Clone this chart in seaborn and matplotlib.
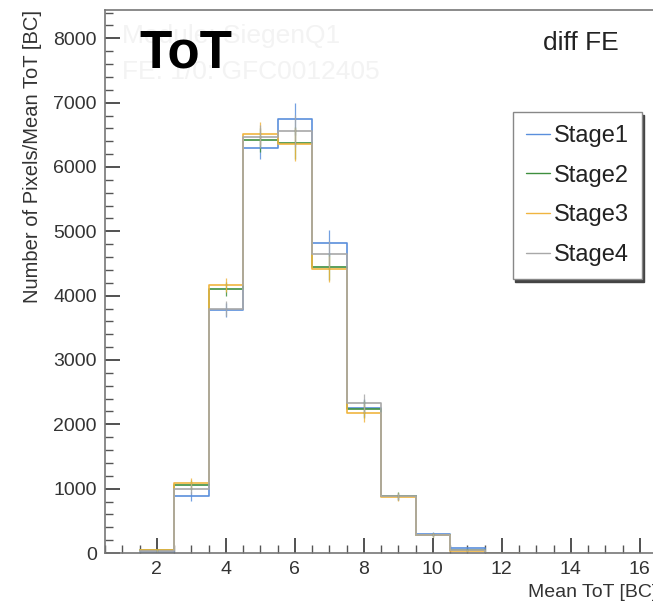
import numpy as np
import pandas as pd
import matplotlib
matplotlib.use("Agg")
import matplotlib.pyplot as plt
import seaborn as sns
from matplotlib.ticker import MultipleLocator
from matplotlib.lines import Line2D

# ---- data ----
tot_bins = [2, 3, 4, 5, 6, 7, 8, 9, 10, 11, 12]
stage1 = [20, 885, 3775, 6300, 6740, 4820, 2250, 880, 300, 70, 3]
stage2 = [40, 1055, 4105, 6420, 6375, 4445, 2240, 885, 275, 40, 3]
stage3 = [48, 1090, 4160, 6520, 6350, 4420, 2170, 875, 275, 35, 5]
stage4 = [25, 990, 3800, 6470, 6560, 4650, 2330, 880, 280, 45, 3]
err_half = [20, 80, 110, 180, 250, 200, 140, 60, 30, 15, 5]
stage_names = ["Stage1", "Stage2", "Stage3", "Stage4"]
stage_colors = ["#5a8fdc", "#3f8f3f", "#f0b540", "#a8a8a8"]
x_ticks = [2, 4, 6, 8, 10, 12, 14, 16]
y_ticks = [0, 1000, 2000, 3000, 4000, 5000, 6000, 7000, 8000]

series = [stage1, stage2, stage3, stage4]
df = pd.DataFrame({
    "tot": np.tile(tot_bins, 4).astype(float),
    "count": np.concatenate(series).astype(float),
    "stage": np.repeat(stage_names, len(tot_bins)),
})

sns.set_theme(style="ticks")
plt.rcParams["font.family"] = ["Liberation Sans", "DejaVu Sans"]

fig = plt.figure(figsize=(6.53, 6.02), dpi=100)
ax = fig.add_axes([105 / 653, 1 - 553 / 602, (657 - 105) / 653, (553 - 10) / 602])

palette = dict(zip(stage_names, stage_colors))
# reversed order so that Stage4 (grey) ends up drawn on top, as in the reference
sns.histplot(data=df, x="tot", weights="count", hue="stage", discrete=True,
             element="step", fill=False, palette=palette, linewidth=1.2,
             legend=False, ax=ax, hue_order=stage_names[::-1])

for name, vals, col in zip(stage_names, series, stage_colors):
    ax.errorbar(tot_bins, vals, yerr=err_half, fmt="none", ecolor=col,
                elinewidth=0.9, capsize=0, alpha=0.85)

ax.set_xlim(0.5, 16.5)
ax.set_ylim(0, 8440)
ax.set_xticks(x_ticks)
ax.set_yticks(y_ticks)
ax.xaxis.set_minor_locator(MultipleLocator(0.5))
ax.yaxis.set_minor_locator(MultipleLocator(200))
ax.tick_params(axis="both", which="major", direction="in", length=11, width=1.2,
               colors="#333333", labelsize=14, labelcolor="#333333")
ax.tick_params(axis="both", which="minor", direction="in", length=6, width=1.0,
               colors="#555555")
ax.tick_params(axis="x", pad=6)
ax.tick_params(axis="y", pad=6)
for s in ax.spines.values():
    s.set_color("#777777")
    s.set_linewidth(1.2)

ax.set_xlabel("Mean ToT [BC]", fontsize=14, color="#333333", loc="right", labelpad=2)
ax.xaxis.set_label_coords(1.0, -0.058)
ax.set_ylabel("Number of Pixels/Mean ToT [BC]", fontsize=14.5, color="#333333",
              loc="top", labelpad=8)

# annotations
fig.text(122 / 653, 1 - 36 / 602, "Module: SiegenQ1", fontsize=19, color="#f3f3f3",
         va="center", ha="left")
fig.text(122 / 653, 1 - 72 / 602, "FE: 1/0: GFC0012405", fontsize=19, color="#f3f3f3",
         va="center", ha="left")
fig.text(139 / 653, 1 - 54 / 602, "ToT", fontsize=38, fontweight="bold", color="black",
         va="center", ha="left")
fig.text(543 / 653, 1 - 43 / 602, "diff FE", fontsize=19, color="#222222",
         va="center", ha="left")

# legend
handles = [Line2D([0], [0], color=c, lw=1.0) for c in stage_colors]
leg = fig.legend(handles, stage_names, loc="upper left",
                 bbox_to_anchor=(513 / 653, 1 - 112 / 602), borderaxespad=0,
                 fontsize=17, frameon=True, fancybox=False, handlelength=1.0,
                 handletextpad=0.2, labelspacing=0.75, borderpad=0.55,
                 shadow={"ox": 1.5, "oy": -2, "color": "#444444", "alpha": 1})
leg.get_frame().set_edgecolor("#888888")
leg.get_frame().set_linewidth(1.0)
for t in leg.get_texts():
    t.set_color("#222222")

fig.savefig("out.png", dpi=100)
